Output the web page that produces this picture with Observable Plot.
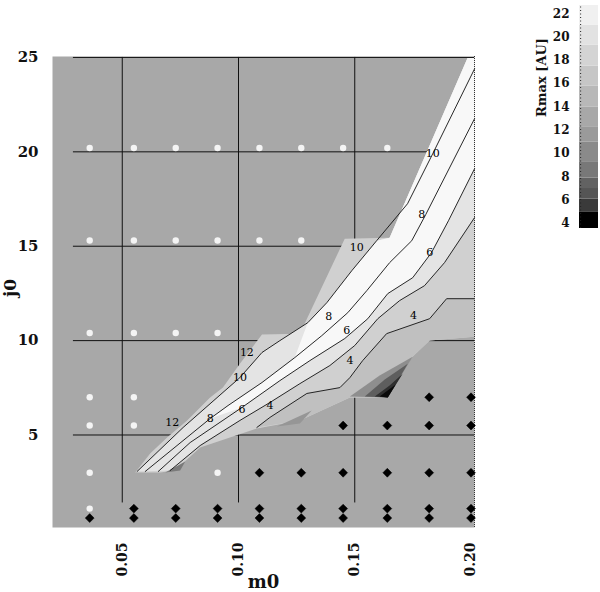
<!DOCTYPE html>
<html><head><meta charset="utf-8">
<script src="https://cdn.jsdelivr.net/npm/d3@7"></script>
<script src="https://cdn.jsdelivr.net/npm/@observablehq/plot@0.6"></script>
<style>
body{margin:0;background:#fff;}
#wrap{position:relative;width:600px;height:592px;overflow:hidden;background:#fff;}
#main{position:absolute;left:0;top:0;}
#legend{position:absolute;left:500px;top:0;}
</style></head><body><div id="wrap"><div id="main"></div><div id="legend"></div></div>
<script>
// ---- axis ticks ----
const m0Ticks = [0.05, 0.10, 0.15, 0.20];
const j0Ticks = [5, 10, 15, 20, 25];
const gridM0 = [0.05, 0.10, 0.15];
const gridJ0 = [5, 10, 15, 20, 25];

// ---- sampled runs (m0, j0) ----
const whiteDots = [
  [0.036,20.2],[0.055,20.2],[0.073,20.2],[0.091,20.2],[0.109,20.2],[0.127,20.2],[0.145,20.2],[0.164,20.2],
  [0.036,15.3],[0.055,15.3],[0.073,15.3],[0.091,15.3],[0.109,15.3],[0.127,15.3],
  [0.036,10.4],[0.055,10.4],[0.073,10.4],[0.091,10.4],
  [0.036,7.0],[0.055,7.0],
  [0.036,5.5],[0.055,5.5],
  [0.036,3.0],[0.091,3.0],
  [0.036,1.1]
];
const blackDots = [
  [0.182,7.0],[0.200,7.0],
  [0.145,5.5],[0.164,5.5],[0.182,5.5],[0.200,5.5],
  [0.109,3.0],[0.127,3.0],[0.145,3.0],[0.164,3.0],[0.182,3.0],[0.200,3.0],
  [0.055,1.1],[0.073,1.1],[0.091,1.1],[0.109,1.1],[0.127,1.1],[0.145,1.1],[0.164,1.1],[0.182,1.1],[0.200,1.1],
  [0.036,0.6],[0.055,0.6],[0.073,0.6],[0.091,0.6],[0.109,0.6],[0.127,0.6],[0.145,0.6],[0.164,0.6],[0.182,0.6],[0.200,0.6]
];

// ---- filled Rmax regions (m0, j0) ----
const bandOutline = [[0.1985,24.97],[0.1650,15.45],[0.1457,15.40],[0.1264,10.37],[0.1101,10.32],[0.1006,8.78],[0.0933,7.51],[0.0878,6.98],[0.0779,5.77],[0.0693,4.87],[0.0620,4.02],[0.0556,3.02],[0.0663,3.02],[0.0727,3.12],[0.0835,4.34],[0.1079,5.34],[0.1264,5.77],[0.1479,6.98],[0.1637,6.98],[0.1745,9.10],[0.1822,10.00],[0.2015,10.21],[0.2015,24.97]];
const bandInner = [[0.1985,24.97],[0.2015,24.97],[0.2015,16.51],[0.1886,14.13],[0.1800,12.91],[0.1693,12.12],[0.1599,11.16],[0.1500,9.74],[0.1393,8.68],[0.1264,7.72],[0.1135,6.72],[0.1006,5.77],[0.0835,4.44],[0.0706,3.12],[0.0564,3.07],[0.0762,5.40],[0.0942,7.35],[0.1006,8.04],[0.1101,9.37],[0.1178,10.00],[0.1298,10.95],[0.1380,12.01],[0.1487,13.70],[0.1594,15.29],[0.1650,15.45]];
const bandCore = [[0.1985,24.97],[0.2015,24.97],[0.2015,19.10],[0.1903,16.35],[0.1830,14.66],[0.1749,13.33],[0.1642,12.49],[0.1556,11.16],[0.1457,10.11],[0.1307,8.94],[0.1178,7.88],[0.1015,6.46],[0.0878,5.87],[0.0955,6.56],[0.1101,7.78],[0.1242,9.10],[0.1298,10.95],[0.1380,12.01],[0.1487,13.70],[0.1594,15.29],[0.1650,15.45]];
const bandLower = [[0.2015,12.22],[0.1895,12.22],[0.1822,11.16],[0.1637,10.37],[0.1534,8.94],[0.1479,8.04],[0.1436,7.51],[0.1294,7.20],[0.1135,5.93],[0.1079,5.40],[0.1264,5.77],[0.1479,6.98],[0.1637,6.98],[0.1745,9.10],[0.1822,10.00],[0.2015,10.21]];
const spot1 = [[0.1479,7.04],[0.1642,6.98],[0.1749,9.15],[0.1607,8.15]];
const spot2 = [[0.1543,7.04],[0.1642,6.98],[0.1728,8.78],[0.1629,7.94]];
const spot3 = [[0.1586,7.04],[0.1642,6.98],[0.1706,8.25],[0.1650,7.62]];
const spot4 = [[0.1607,7.04],[0.1642,6.98],[0.1676,7.67]];
const spotLeft = [[0.0685,3.02],[0.0771,3.60],[0.0749,3.12]];
const spotMid = [[0.1165,5.45],[0.1315,6.30],[0.1264,5.61]];

// ---- contour lines (m0, j0) ----
const contourA = [[0.2015,24.39],[0.1835,19.89],[0.1727,17.25],[0.1594,15.29],[0.1487,13.70],[0.1380,12.01],[0.1298,10.95],[0.1178,10.00],[0.1101,9.37],[0.1006,8.04],[0.0942,7.35],[0.0762,5.40],[0.0564,3.07]];
const contourB = [[0.2015,21.75],[0.1805,16.67],[0.1745,15.29],[0.1650,14.13],[0.1552,12.65],[0.1470,11.48],[0.1358,10.26],[0.1242,9.10],[0.1101,7.78],[0.0955,6.56],[0.0878,5.87],[0.0599,3.07]];
const contourC = [[0.2015,19.10],[0.1903,16.35],[0.1830,14.66],[0.1749,13.33],[0.1642,12.49],[0.1556,11.16],[0.1457,10.11],[0.1307,8.94],[0.1178,7.88],[0.1015,6.46],[0.0792,4.60],[0.0655,3.07]];
const contourD = [[0.2015,16.51],[0.1886,14.13],[0.1800,12.91],[0.1693,12.12],[0.1599,11.16],[0.1500,9.74],[0.1393,8.68],[0.1264,7.72],[0.1135,6.72],[0.1006,5.77],[0.0835,4.44],[0.0706,3.12]];
const contourE = [[0.2015,12.22],[0.1895,12.22],[0.1822,11.16],[0.1637,10.37],[0.1534,8.94],[0.1479,8.04],[0.1436,7.51],[0.1294,7.20],[0.1135,5.93],[0.1079,5.40]];
const contourLabels = [
  {m0:0.1036,j0:9.37,t:"12"},{m0:0.0715,j0:5.66,t:"12"},
  {m0:0.1835,j0:19.89,t:"10"},{m0:0.1509,j0:14.92,t:"10"},{m0:0.1006,j0:8.04,t:"10"},
  {m0:0.1788,j0:16.67,t:"8"},{m0:0.1388,j0:11.27,t:"8"},{m0:0.0878,j0:5.87,t:"8"},
  {m0:0.1822,j0:14.66,t:"6"},{m0:0.1466,j0:10.53,t:"6"},{m0:0.1015,j0:6.35,t:"6"},
  {m0:0.1753,j0:11.32,t:"4"},{m0:0.1479,j0:8.94,t:"4"},{m0:0.1135,j0:6.56,t:"4"}
];

// ---- colour bar ----
const legendLo   = [3.57, 5.0, 6.1, 7.0, 7.9, 9.3, 11.0, 12.3, 14.0, 15.8, 17.5, 19.3, 21.0];
const legendHi   = [5.0, 6.1, 7.0, 7.9, 9.3, 11.0, 12.3, 14.0, 15.8, 17.5, 19.3, 21.0, 22.7];
const legendGray = ["#000000","#3a3a3a","#555555","#626262","#787878","#8a8a8a","#9a9a9a","#a8a8a8","#b8b8b8","#c6c6c6","#d4d4d4","#e2e2e2","#f0f0f0"];
const legendTicks = [4, 6, 8, 10, 12, 14, 16, 18, 20, 22];

const P = d => d[0], Q = d => d[1];
const poly = (pts, fill) => Plot.line(pts, {x: P, y: Q, fill, stroke: "none"});
const cline = pts => Plot.line(pts, {x: P, y: Q, stroke: "#111", strokeWidth: 0.9});

const main = Plot.plot({
  width: 600, height: 592,
  marginLeft: 52, marginRight: 126, marginTop: 56, marginBottom: 65,
  style: {fontFamily: "DejaVu Serif", background: "transparent", color: "#111"},
  x: {domain: [0.02, 0.2015]},
  y: {domain: [0.1, 25.05]},
  marks: [
    Plot.frame({fill: "#a8a8a8", stroke: "none"}),
    Plot.ruleX(gridM0, {y1: 1.4, y2: 25, stroke: "#111", strokeWidth: 1}),
    Plot.ruleY(gridJ0, {x1: 0.029, x2: 0.2015, stroke: "#111", strokeWidth: 1}),
    poly(bandOutline, "#d0d0d0"),
    poly(bandInner, "#e4e4e4"),
    poly(bandCore, "#f8f8f8"),
    poly(bandLower, "#c0c0c0"),
    poly(spot1, "#8e8e8e"),
    poly(spot2, "#5e5e5e"),
    poly(spot3, "#2e2e2e"),
    poly(spot4, "#0a0a0a"),
    poly(spotLeft, "#7a7a7a"),
    poly(spotMid, "#969696"),
    cline(contourA), cline(contourB), cline(contourC), cline(contourD), cline(contourE),
    Plot.text(contourLabels, {x: "m0", y: "j0", text: "t", fontSize: 11, fill: "#000"}),
    Plot.ruleX([0.2015], {y1: 0.1, y2: 25.05, stroke: "#333", strokeDasharray: "1,1"}),
    Plot.dot(whiteDots, {x: P, y: Q, r: 3.2, fill: "#f4f4f4"}),
    Plot.dot(blackDots, {x: P, y: Q, r: 4, symbol: "diamond2", fill: "#000", stroke: "#000", strokeWidth: 0.5}),
    Plot.axisX(m0Ticks, {tickFormat: d3.format(".2f"), tickRotate: -90, tickSize: 0, tickPadding: 15, fontSize: 14, fontWeight: "bold", label: null}),
    Plot.axisY(j0Ticks, {tickSize: 0, tickPadding: 14, fontSize: 15, fontWeight: "bold", label: null}),
    Plot.text(["m0"], {frameAnchor: "bottom", dy: 60, fontSize: 18, fontWeight: "bold", text: d => d}),
    Plot.text(["j0"], {frameAnchor: "left", dx: -42, dy: 5, rotate: -90, fontSize: 17, fontWeight: "bold", text: d => d})
  ]
});
document.getElementById("main").appendChild(main);

const bins = legendLo.map((lo, i) => ({lo, hi: legendHi[i], g: legendGray[i]}));
const legend = Plot.plot({
  width: 100, height: 240,
  marginLeft: 79, marginRight: 2, marginTop: 5, marginBottom: 12,
  style: {fontFamily: "DejaVu Serif", background: "transparent", color: "#111"},
  x: {domain: [0, 1], axis: null},
  y: {domain: [3.57, 22.7]},
  color: {type: "identity"},
  marks: [
    Plot.rect(bins, {x1: () => 0, x2: () => 1, y1: "lo", y2: "hi", fill: "g"}),
    Plot.ruleX([0.06], {y1: 3.57, y2: 22.7, stroke: "#222", strokeDasharray: "1,2.5"}),
    Plot.axisY(legendTicks, {tickSize: 0, tickPadding: 10, fontSize: 12, fontWeight: "bold", label: null}),
    Plot.text(["Rmax [AU]"], {frameAnchor: "left", dx: -38, dy: 0, rotate: -90, fontSize: 13, fontWeight: "bold", text: d => d})
  ]
});
document.getElementById("legend").appendChild(legend);
</script>
</body></html>
